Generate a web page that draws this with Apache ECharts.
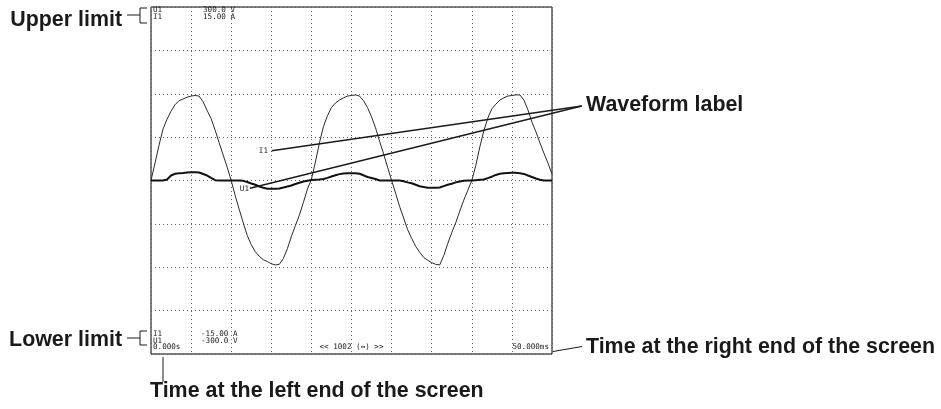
<!DOCTYPE html>
<html>
<head>
<meta charset="utf-8">
<script src="https://cdn.jsdelivr.net/npm/echarts@6/dist/echarts.min.js"></script>
<style>
html,body{margin:0;padding:0;background:#fff;}
#chart{width:941px;height:409px;}
</style>
</head>
<body>
<div id="chart"></div>
<script>
// Time samples (ms) across the screen, 0.000 s .. 50.000 ms
var timeMs = [0,0.5,1,1.5,2,2.5,3,3.5,4,4.5,5,5.5,6,6.5,7,7.5,8,8.5,9,9.5,10,10.5,11,11.5,12,12.5,13,13.5,14,14.5,15,15.5,16,16.5,17,17.5,18,18.5,19,19.5,20,20.5,21,21.5,22,22.5,23,23.5,24,24.5,25,25.5,26,26.5,27,27.5,28,28.5,29,29.5,30,30.5,31,31.5,32,32.5,33,33.5,34,34.5,35,35.5,36,36.5,37,37.5,38,38.5,39,39.5,40,40.5,41,41.5,42,42.5,43,43.5,44,44.5,45,45.5,46,46.5,47,47.5,48,48.5,49,49.5,50];

// U1 voltage waveform (V)
var u1Values = [0,30,61,89,106,120,131,138,141,144,
  146,147,146,136,121,107,87,65,44,23,
  0,-26,-50,-73,-95,-111,-123,-131,-137,-140,
  -144,-146,-145,-135,-118,-97,-78,-60,-38,-15,
  2,32,65,93,112,126,134,139,143,146,
  147,148,146,138,126,110,91,68,46,23,
  0,-22,-45,-65,-85,-100,-114,-124,-133,-138,
  -142,-145,-146,-130,-109,-90,-73,-53,-34,-17,
  0,26,58,86,108,124,132,139,143,146,
  147,148,148,139,122,101,84,65,47,30,11];

// I1 current waveform (A)
var i1Values = [0,0,0,0,0.09,0.43,0.58,0.62,0.65,0.69,
  0.72,0.72,0.69,0.56,0.43,0.22,0.03,0,0,0,
  0,0,0,-0.03,-0.13,-0.26,-0.37,-0.52,-0.63,-0.71,
  -0.72,-0.72,-0.69,-0.61,-0.52,-0.43,-0.30,-0.20,-0.09,-0.02,
  0.04,0.07,0.09,0.13,0.23,0.35,0.46,0.55,0.61,0.63,
  0.63,0.62,0.58,0.45,0.30,0.22,0.13,0,0,0,
  0,0,0,-0.06,-0.16,-0.24,-0.37,-0.50,-0.57,-0.62,
  -0.63,-0.63,-0.61,-0.49,-0.37,-0.28,-0.16,-0.08,-0.03,-0.01,
  0,0.03,0.06,0.09,0.21,0.33,0.48,0.58,0.62,0.64,
  0.66,0.67,0.63,0.57,0.43,0.30,0.17,0.06,0,0,0];

// Screen range texts
var u1Upper = '300.0 V', u1Lower = '-300.0 V';
var i1Upper = '15.00 A', i1Lower = '-15.00 A';
var timeLeft = '0.000s', timeRight = '50.000ms';
var recordText = '<< 1002 (\u2194) >>';

var u1Data = timeMs.map(function(t, i){ return [t, u1Values[i]]; });
var i1Data = timeMs.map(function(t, i){ return [t, i1Values[i]]; });

var chart = echarts.init(document.getElementById('chart'), null, {renderer:'canvas'});

var bigFont = 'bold 21.4px "Liberation Sans", Arial, Helvetica, sans-serif';
var smallFont = '7.6px "DejaVu Sans Mono", "Liberation Mono", monospace';
function txt(text, x, y, font, align){
  return {type:'text', silent:true, z:10, style:{text:text, x:x, y:y, font:font, fill:'#1a1a1a', align:align||'left', verticalAlign:'middle'}};
}
function ln(x1,y1,x2,y2,w){
  return {type:'line', silent:true, z:10, shape:{x1:x1,y1:y1,x2:x2,y2:y2}, style:{stroke:'#1a1a1a', lineWidth:w||1}};
}
function pl(pts){
  return {type:'polyline', silent:true, z:10, shape:{points:pts}, style:{stroke:'#1a1a1a', lineWidth:1, fill:null}};
}

var option = {
  backgroundColor:'#fff',
  animation:false,
  grid:{left:151, top:7, width:401, height:347, show:true, borderColor:'#000', borderWidth:1, backgroundColor:'#fff'},
  xAxis:{type:'value', min:0, max:50, interval:5,
    axisLine:{show:false}, axisTick:{show:false}, axisLabel:{show:false},
    splitLine:{show:true, lineStyle:{type:[1,3], color:'#666', width:1}}},
  yAxis:[
    {type:'value', min:-300, max:300, interval:75,
      axisLine:{show:false}, axisTick:{show:false}, axisLabel:{show:false},
      splitLine:{show:true, lineStyle:{type:[1,3], color:'#666', width:1}}},
    {type:'value', min:-15, max:15, interval:3.75, show:false,
      splitLine:{show:false}}
  ],
  series:[
    {name:'U1', type:'line', yAxisIndex:0, data:u1Data, showSymbol:false, symbol:'none',
      lineStyle:{color:'#2a2a2a', width:1}, z:3},
    {name:'I1', type:'line', yAxisIndex:1, data:i1Data, showSymbol:false, symbol:'none',
      lineStyle:{color:'#111', width:2}, z:4}
  ],
  graphic:[
    // in-screen texts
    txt('U1', 153, 10.5, smallFont), txt(u1Upper, 203, 10.5, smallFont),
    txt('I1', 153, 17, smallFont), txt(i1Upper, 203, 17, smallFont),
    txt('I1', 153, 334.5, smallFont), txt(i1Lower, 201, 334.5, smallFont),
    txt('U1', 153, 340.8, smallFont), txt(u1Lower, 201, 340.8, smallFont),
    txt(timeLeft, 153, 347, smallFont),
    txt(recordText, 351.5, 347, smallFont, 'center'),
    txt(timeRight, 549, 347, smallFont, 'right'),
    txt('I1', 268, 151, smallFont, 'right'),
    txt('U1', 249, 189, smallFont, 'right'),
    // annotations
    txt('Upper limit', 122, 20, bigFont, 'right'),
    ln(127, 15, 140, 15), pl([[147,8],[140,8],[140,23],[147,23]]),
    txt('Lower limit', 122, 340, bigFont, 'right'),
    ln(127, 338, 140, 338), pl([[147,331],[140,331],[140,345],[147,345]]),
    txt('Waveform label', 586, 105, bigFont, 'left'),
    ln(581.7, 106, 271.7, 150.7, 1.4), ln(581.7, 106, 250, 188.3, 1.4),
    txt('Time at the right end of the screen', 586, 347, bigFont, 'left'),
    ln(553, 351.5, 582, 346.5),
    txt('Time at the left end of the screen', 150, 391, bigFont, 'left'),
    ln(163, 357, 163, 382)
  ]
};
chart.setOption(option);
</script>
</body>
</html>
